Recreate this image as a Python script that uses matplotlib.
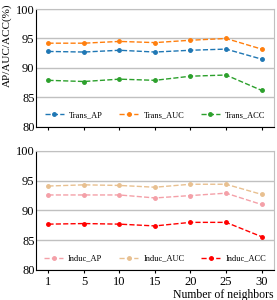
import matplotlib.pyplot as plt

plt.rcParams['font.family'] = 'Liberation Serif'

neighbors = ['1', '5', '10', '15', '20', '25', '30']

trans_ap = [92.8, 92.7, 93.0, 92.7, 93.0, 93.2, 91.5]
trans_auc = [94.2, 94.2, 94.5, 94.3, 94.7, 95.0, 93.2]
trans_acc = [87.9, 87.7, 88.1, 87.9, 88.6, 88.8, 86.2]

induc_ap = [92.6, 92.6, 92.6, 92.1, 92.5, 92.9, 91.0]
induc_auc = [94.1, 94.3, 94.2, 93.9, 94.4, 94.4, 92.7]
induc_acc = [87.7, 87.8, 87.7, 87.4, 88.0, 88.0, 85.6]

fig = plt.figure(figsize=(2.77, 3.0), dpi=100)
ax1 = fig.add_axes([0.130, 0.577, 0.859, 0.393])
ax2 = fig.add_axes([0.130, 0.100, 0.859, 0.397])

x = range(len(neighbors))


def style(ax):
    ax.set_ylim(80, 100)
    ax.set_yticks([80, 85, 90, 95, 100])
    ax.set_xlim(-0.35, len(neighbors) - 0.65)
    ax.set_xticks(list(x))
    ax.grid(axis='y', color='#c0c0c0', linewidth=1)
    ax.set_axisbelow(True)
    ax.spines['left'].set_color('black')
    ax.spines['bottom'].set_color('black')
    ax.spines['top'].set_color('#c0c0c0')
    ax.spines['right'].set_color('#c0c0c0')
    ax.tick_params(axis='y', length=0, labelsize=9, pad=1)
    ax.tick_params(axis='x', length=2, labelsize=9, pad=2)
    ax.legend(loc='lower center', ncol=3, frameon=False, fontsize=6,
              bbox_to_anchor=(0.5, 0.0), handlelength=2.3, handletextpad=0.6,
              columnspacing=2.0)


ax1.plot(x, trans_ap, '--o', color='#1f77b4', markersize=2.5, linewidth=1, label='Trans_AP')
ax1.plot(x, trans_auc, '--o', color='#ff7f0e', markersize=2.5, linewidth=1, label='Trans_AUC')
ax1.plot(x, trans_acc, '--o', color='#2ca02c', markersize=2.5, linewidth=1, label='Trans_ACC')
style(ax1)
ax1.set_xticklabels([])
fig.text(0.027, 0.85, 'AP/AUC/ACC(%)', rotation=90, fontsize=8, ha='center', va='center')

ax2.plot(x, induc_ap, '--o', color='#f4a0a8', markersize=2.5, linewidth=1, label='Induc_AP')
ax2.plot(x, induc_auc, '--o', color='#e8c090', markersize=2.5, linewidth=1, label='Induc_AUC')
ax2.plot(x, induc_acc, '--o', color='#ff0000', markersize=2.5, linewidth=1, label='Induc_ACC')
style(ax2)
ax2.set_xticklabels(neighbors)
ax2.set_xlabel('Number of neighbors', fontsize=8.5, labelpad=1)
ax2.xaxis.set_label_coords(1.0, -0.16)
ax2.xaxis.label.set_horizontalalignment('right')

fig.savefig('out.png', dpi=100)
